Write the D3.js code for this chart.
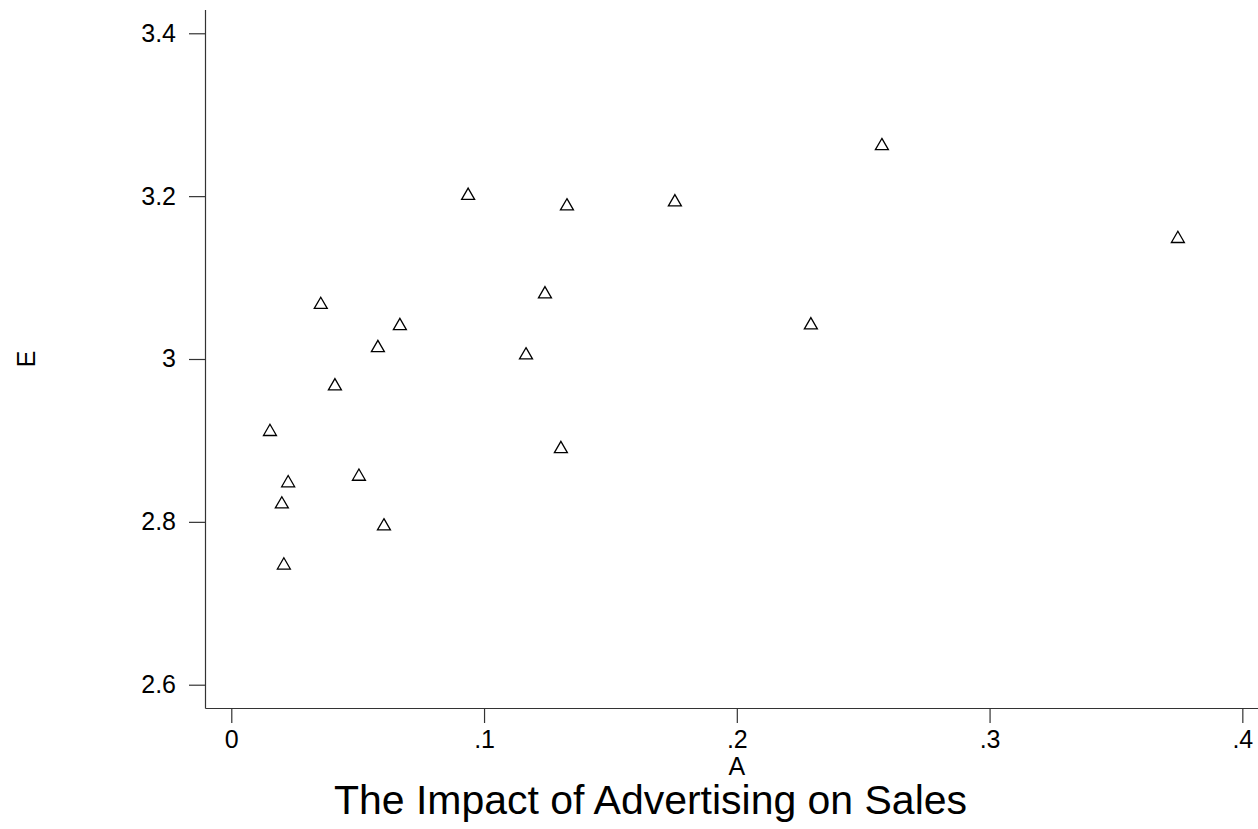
<!DOCTYPE html>
<html>
<head>
<meta charset="utf-8">
<script src="https://cdn.jsdelivr.net/npm/d3@7"></script>
<style>
  html, body { margin: 0; padding: 0; background: #fff; }
  svg { display: block; }
  text { font-family: "Liberation Sans", Arial, sans-serif; fill: #000; }
</style>
</head>
<body>
<svg id="chart" width="1258" height="829"></svg>
<script>
// ---- data ----
const advertising = [0.0153, 0.0225, 0.0200, 0.0208, 0.0354, 0.0410, 0.0505, 0.0580, 0.0604, 0.0667,
                     0.0937, 0.1166, 0.1241, 0.1304, 0.1328, 0.1755, 0.2293, 0.2574, 0.3745];
const sales       = [2.913, 2.850, 2.824, 2.749, 3.069, 2.969, 2.858, 3.016, 2.797, 3.043,
                     3.203, 3.007, 3.082, 2.892, 3.190, 3.195, 3.044, 3.264, 3.150];
const xTicks = [0, 0.1, 0.2, 0.3, 0.4];
const xTickLabels = ["0", ".1", ".2", ".3", ".4"];
const yTicks = [2.6, 2.8, 3.0, 3.2, 3.4];
const yTickLabels = ["2.6", "2.8", "3", "3.2", "3.4"];
const xTitle = "A";
const yTitle = "E";
const chartTitle = "The Impact of Advertising on Sales";

// ---- layout ----
const svg = d3.select("#chart");
const plotLeft = 205, plotRight = 1258, plotTop = 9.5, plotBottom = 708;

const x = d3.scaleLinear().domain([-0.0104, 0.4062]).range([plotLeft, plotRight]);
const y = d3.scaleLinear().domain([2.5714, 3.4292]).range([plotBottom, plotTop]);

const axisColor = "#333";

const gx = svg.append("g")
  .attr("transform", `translate(0,${plotBottom})`)
  .call(d3.axisBottom(x).tickValues(xTicks)
        .tickFormat((d, i) => xTickLabels[i])
        .tickSize(15).tickSizeOuter(0).tickPadding(7));

const gy = svg.append("g")
  .attr("transform", `translate(${plotLeft},0)`)
  .call(d3.axisLeft(y).tickValues(yTicks)
        .tickFormat((d, i) => yTickLabels[i])
        .tickSize(16).tickSizeOuter(0).tickPadding(13));

[gx, gy].forEach(g => {
  g.selectAll("path.domain").attr("stroke", axisColor).attr("stroke-width", 1.2);
  g.selectAll(".tick line").attr("stroke", axisColor).attr("stroke-width", 1.2);
  g.selectAll(".tick text")
    .attr("font-family", '"Liberation Sans", Arial, sans-serif')
    .attr("font-size", 25).attr("fill", "#000");
});

// markers
const tri = d3.symbol().type(d3.symbolTriangle).size(73);
svg.append("g").selectAll("path")
  .data(advertising.map((a, i) => ({a, e: sales[i]})))
  .join("path")
  .attr("d", tri)
  .attr("transform", d => `translate(${x(d.a)},${y(d.e) + 1.9})`)
  .attr("fill", "none")
  .attr("stroke", "#000")
  .attr("stroke-width", 1.3);

// axis titles
svg.append("text")
  .attr("x", x(0.2)).attr("y", 775)
  .attr("text-anchor", "middle")
  .attr("font-size", 25)
  .text(xTitle);

svg.append("text")
  .attr("transform", "translate(35,359) rotate(-90)")
  .attr("text-anchor", "middle")
  .attr("font-size", 25)
  .text(yTitle);

// chart title (at bottom, as in the reference)
svg.append("text")
  .attr("x", 650.5).attr("y", 814)
  .attr("text-anchor", "middle")
  .attr("font-size", 40)
  .attr("textLength", 633)
  .attr("lengthAdjust", "spacingAndGlyphs")
  .text(chartTitle);
</script>
</body>
</html>
